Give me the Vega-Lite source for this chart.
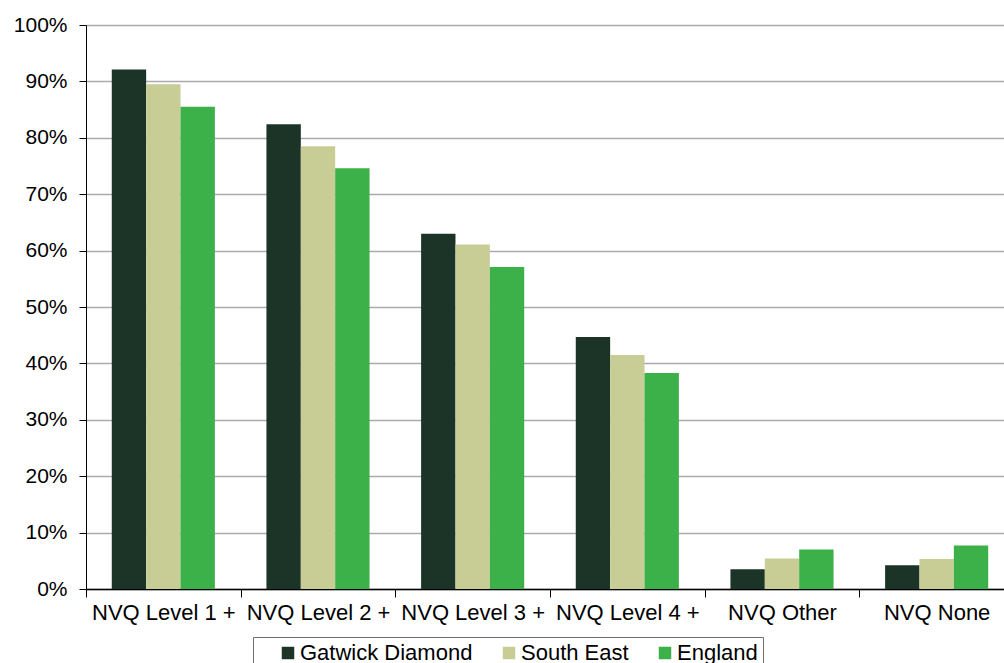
{
  "$schema": "https://vega.github.io/schema/vega-lite/v6.json",
  "width": 918,
  "height": 564,
  "autosize": {"type": "none"},
  "padding": {"left": 86, "top": 25, "right": 0, "bottom": 74},
  "background": "white",
  "config": {"font": "Liberation Sans", "view": {"stroke": null}},
  "data": {
    "values": [
      {"category": "NVQ Level 1 +", "series": "Gatwick Diamond", "value": 92.1},
      {"category": "NVQ Level 1 +", "series": "South East", "value": 89.5},
      {"category": "NVQ Level 1 +", "series": "England", "value": 85.5},
      {"category": "NVQ Level 2 +", "series": "Gatwick Diamond", "value": 82.4},
      {"category": "NVQ Level 2 +", "series": "South East", "value": 78.5},
      {"category": "NVQ Level 2 +", "series": "England", "value": 74.6},
      {"category": "NVQ Level 3 +", "series": "Gatwick Diamond", "value": 63.0},
      {"category": "NVQ Level 3 +", "series": "South East", "value": 61.1},
      {"category": "NVQ Level 3 +", "series": "England", "value": 57.1},
      {"category": "NVQ Level 4 +", "series": "Gatwick Diamond", "value": 44.7},
      {"category": "NVQ Level 4 +", "series": "South East", "value": 41.5},
      {"category": "NVQ Level 4 +", "series": "England", "value": 38.3},
      {"category": "NVQ Other", "series": "Gatwick Diamond", "value": 3.5},
      {"category": "NVQ Other", "series": "South East", "value": 5.4},
      {"category": "NVQ Other", "series": "England", "value": 7.0},
      {"category": "NVQ None", "series": "Gatwick Diamond", "value": 4.2},
      {"category": "NVQ None", "series": "South East", "value": 5.3},
      {"category": "NVQ None", "series": "England", "value": 7.7}
    ]
  },
  "mark": {"type": "bar"},
  "encoding": {
    "x": {
      "field": "category",
      "type": "nominal",
      "sort": ["NVQ Level 1 +", "NVQ Level 2 +", "NVQ Level 3 +", "NVQ Level 4 +", "NVQ Other", "NVQ None"],
      "scale": {"paddingInner": 0, "paddingOuter": 0, "range": [0, 928]},
      "axis": {
        "title": null,
        "labelAngle": 0,
        "labelFontSize": 22,
        "labelColor": "black",
        "labelPadding": 5,
        "labelLimit": 0,
        "tickBand": "extent",
        "tickSize": 8,
        "tickColor": "black",
        "tickWidth": 1,
        "domainColor": "black",
        "domainWidth": 1.5,
        "grid": false
      }
    },
    "xOffset": {
      "field": "series",
      "sort": ["Gatwick Diamond", "South East", "England"],
      "scale": {"paddingInner": 0, "paddingOuter": 0.75}
    },
    "y": {
      "field": "value",
      "type": "quantitative",
      "scale": {"domain": [0, 100], "nice": false},
      "axis": {
        "title": null,
        "values": [0, 10, 20, 30, 40, 50, 60, 70, 80, 90, 100],
        "labelExpr": "datum.value + '%'",
        "labelFontSize": 21,
        "labelColor": "black",
        "labelPadding": 12,
        "tickSize": 7,
        "tickColor": "black",
        "domainColor": "black",
        "domainWidth": 1,
        "gridColor": "#aaaaaa",
        "gridWidth": 1.5
      }
    },
    "color": {
      "field": "series",
      "type": "nominal",
      "sort": ["Gatwick Diamond", "South East", "England"],
      "scale": {
        "domain": ["Gatwick Diamond", "South East", "England"],
        "range": ["#1c3327", "#c8cd96", "#3cb14a"]
      },
      "legend": {
        "title": null,
        "orient": "none",
        "direction": "horizontal",
        "legendX": 167,
        "legendY": 612,
        "padding": 5,
        "strokeColor": "#6e6e6e",
        "symbolType": "square",
        "symbolSize": 156,
        "symbolStrokeWidth": 0,
        "symbolOffset": 19,
        "labelFontSize": 22,
        "labelLimit": 0,
        "labelColor": "black",
        "labelOffset": 1,
        "columnPadding": 6
      }
    }
  }
}
